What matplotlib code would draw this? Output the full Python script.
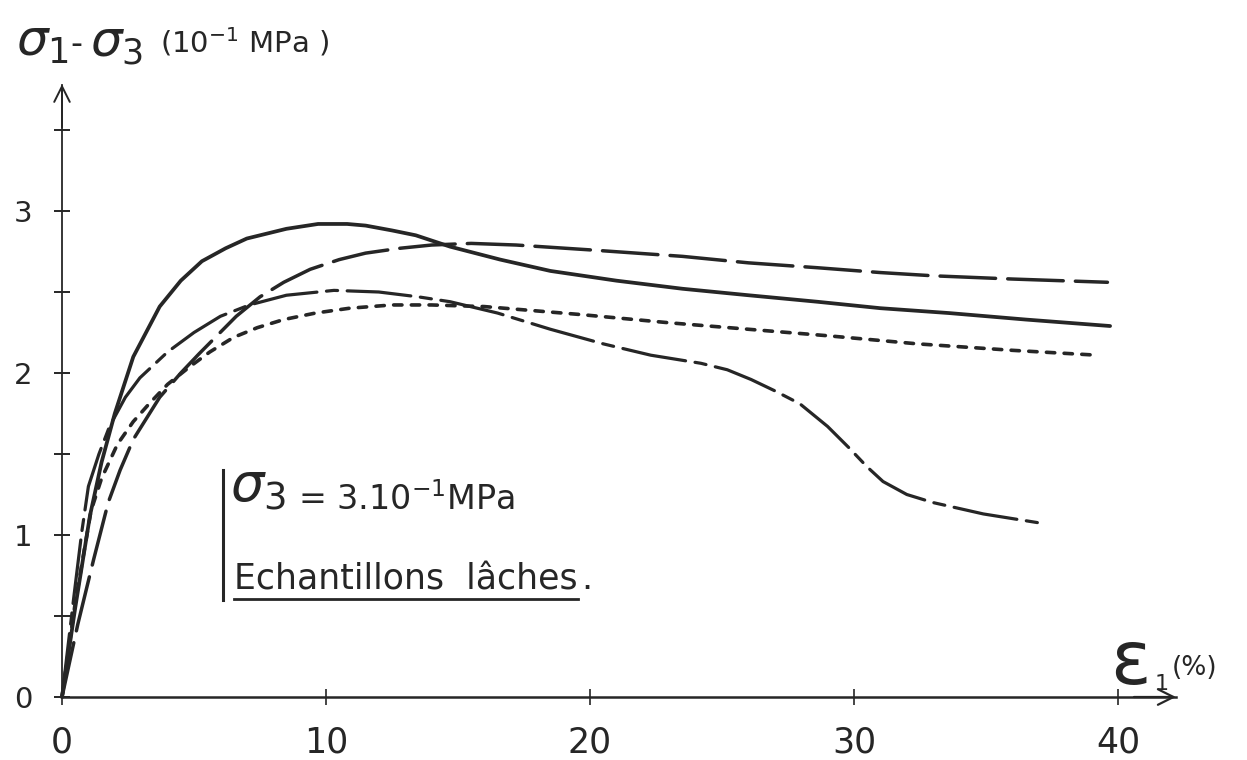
import matplotlib
matplotlib.use("Agg")
from matplotlib import pyplot
from matplotlib.lines import Line2D

# courbes (eps1 en %, sigma1-sigma3 en 10^-1 MPa)
solid_x = [0, 0.5, 1.06, 1.5, 2.0, 2.7, 3.7, 4.5, 5.3, 6.2, 7.0, 8.5, 9.7, 10.8, 11.5, 12.5,
           13.4, 14.7, 16.6, 18.5, 21, 23.5, 26, 28.6, 31, 33.6, 36.5, 39.7]
solid_y = [0, 0.55, 1.12, 1.45, 1.75, 2.10, 2.41, 2.57, 2.69, 2.77, 2.83, 2.89, 2.92, 2.92, 2.91, 2.88,
           2.85, 2.78, 2.70, 2.63, 2.57, 2.52, 2.48, 2.44, 2.40, 2.37, 2.33, 2.29]

long_x = [0, 0.6, 1.2, 1.75, 2.2, 2.7, 3.7, 4.5, 5.2, 6.6, 7.5, 8.4, 9.4, 10.5, 11.5, 12.8,
          14, 15.5, 17.2, 20, 23.5, 26, 28.6, 31, 33, 36, 39.6]
long_y = [0, 0.45, 0.85, 1.20, 1.40, 1.59, 1.85, 2.00, 2.12, 2.35, 2.47, 2.56, 2.64, 2.70, 2.74, 2.77,
          2.79, 2.80, 2.79, 2.76, 2.72, 2.68, 2.65, 2.62, 2.60, 2.58, 2.56]

dashdot_x = [0, 0.45, 0.75, 1.0, 1.4, 1.8, 2.4, 2.95, 4.0, 5.0, 6.0, 7.1, 8.5, 10.3, 12, 13.5,
             14.7, 16.5, 18.5, 20.5, 22.3, 24.2, 25.2, 26.1, 27.0, 27.95, 29, 29.8, 30.5, 31.1,
             32, 33, 34.9, 37.2]
dashdot_y = [0, 0.62, 1.02, 1.30, 1.50, 1.67, 1.85, 1.97, 2.13, 2.25, 2.35, 2.42, 2.48, 2.51, 2.50, 2.47,
             2.44, 2.37, 2.27, 2.18, 2.11, 2.06, 2.02, 1.96, 1.89, 1.81, 1.67, 1.54, 1.42, 1.33,
             1.25, 1.20, 1.13, 1.07]

dot_x = [0, 0.5, 1.1, 1.5, 2.1, 2.7, 3.3, 4.0, 4.85, 5.6, 6.5, 7.4, 8.4, 9.6, 10.9, 12.5,
         14, 16, 19.7, 23, 26, 29, 32.4, 36, 39.2]
dot_y = [0, 0.58, 1.15, 1.35, 1.56, 1.70, 1.81, 1.93, 2.04, 2.13, 2.22, 2.28, 2.33, 2.37, 2.40, 2.42,
         2.42, 2.41, 2.36, 2.31, 2.27, 2.23, 2.18, 2.14, 2.11]

x_ticks = [0, 10, 20, 30, 40]
y_ticks = [0, 1, 2, 3]
y_minor = [0.5, 1.5, 2.5, 3.5]

W, H = 1247, 760
ink = '#262626'

fig = pyplot.figure(figsize=(W / 100, H / 100), dpi=100)
ax = fig.add_axes([0, 0, 1, 1])

# echelle : 26.4 px par % et 162 px par unite, origine en (62, 697)
ax.set_xlim(-62 / 26.4, (W - 62) / 26.4)
ax.set_ylim((697 - H) / 162, 697 / 162)

for s in ['top', 'right']:
    ax.spines[s].set_visible(False)
ax.spines['left'].set_position(('data', 0))
ax.spines['bottom'].set_position(('data', 0))
ax.spines['left'].set_bounds(0, 3.78)
ax.spines['bottom'].set_bounds(0, 42.2)
ax.spines['left'].set_linewidth(1.3)
ax.spines['bottom'].set_linewidth(1.8)
ax.spines['left'].set_color(ink)
ax.spines['bottom'].set_color(ink)

# fleches des axes
ax.annotate('', xy=(42.3, 0), xytext=(40.5, 0),
            arrowprops=dict(arrowstyle='->', lw=1.6, color=ink, mutation_scale=28))
ax.annotate('', xy=(0, 3.80), xytext=(0, 3.5),
            arrowprops=dict(arrowstyle='->', lw=1.4, color=ink, mutation_scale=28))

ax.set_xticks(x_ticks)
ax.set_xticklabels([str(v) for v in x_ticks])
ax.set_yticks(y_ticks)
ax.set_yticklabels([str(v) for v in y_ticks])
ax.set_yticks(y_minor, minor=True)
ax.tick_params(axis='x', which='major', direction='inout', length=11, width=1.2,
               labelsize=25, pad=15, colors=ink)
ax.tick_params(axis='y', which='both', direction='inout', length=11, width=1.4,
               labelsize=21, pad=16, colors=ink)

# les quatre essais
ax.plot(solid_x, solid_y, color=ink, lw=2.7, solid_capstyle='round')
ax.plot(long_x, long_y, color=ink, lw=2.5, linestyle=(0, (16, 3.5)), dash_capstyle='round')
ax.plot(dashdot_x, dashdot_y, color=ink, lw=2.3, linestyle=(0, (20, 3, 3.5, 3)), dash_capstyle='round')
ax.plot(dot_x, dot_y, color=ink, lw=2.6, linestyle=(0, (2.3, 2.6)), dash_capstyle='round')


def px(x, y):
    return x / W, 1 - y / H


# titre de l'axe vertical
fig.text(*px(16, 56), r'$\sigma_1$', fontsize=36, color=ink, va='baseline')
fig.text(*px(76, 44), '-', fontsize=24, color=ink, ha='center', va='center')
fig.text(*px(90, 56), r'$\sigma_3$', fontsize=36, color=ink, va='baseline')
fig.text(*px(160, 42), r'(10$^{-1}$ MPa )', fontsize=21, color=ink, va='center')

# titre de l'axe horizontal
fig.text(*px(1110, 684), 'ε', fontsize=54, color=ink, va='baseline')
fig.text(*px(1155, 690), '1', fontsize=16, color=ink, va='baseline')
fig.text(*px(1172, 668), '(%)', fontsize=19, color=ink, va='center')

# cartouche
fig.add_artist(Line2D([223 / W, 223 / W], [1 - 470 / H, 1 - 600 / H], color=ink, lw=2.2))
fig.text(*px(230, 502), r'$\sigma_3$', fontsize=38, color=ink, va='baseline')
fig.text(*px(298, 500), r'= 3.10$^{-1}$MPa', fontsize=24, color=ink, va='center')
t = fig.text(*px(234, 589), 'Echantillons  lâches', fontsize=25, color=ink, va='baseline')
fig.canvas.draw()
bb = t.get_window_extent(fig.canvas.get_renderer())
fig.add_artist(Line2D([bb.x0 / W, bb.x1 / W], [1 - 599 / H, 1 - 599 / H], color=ink, lw=2))
fig.text((bb.x1 + 4) / W, 1 - 589 / H, '.', fontsize=25, color=ink, va='baseline')

fig.savefig('out.png', dpi=100, facecolor='white')
